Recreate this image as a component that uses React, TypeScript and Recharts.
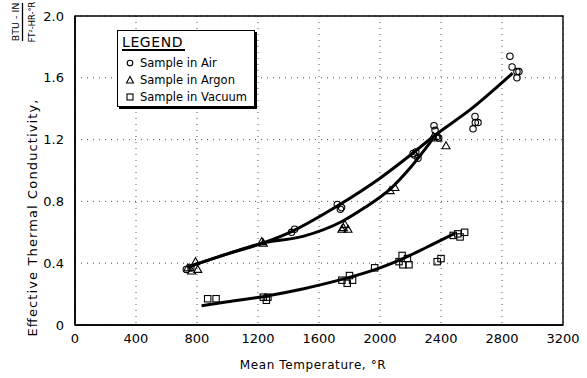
import React from 'react';
import {
  ComposedChart,
  Line,
  Scatter,
  XAxis,
  YAxis,
  CartesianGrid,
  ReferenceArea,
  Legend,
} from 'recharts';

// ---- axis ticks ----
const xTicks = [0, 400, 800, 1200, 1600, 2000, 2400, 2800, 3200];
const yTicks = [0, 0.4, 0.8, 1.2, 1.6, 2.0];

// ---- measured points ----
const airX = [730, 760, 1420, 1440, 1720, 1740, 1748, 2217, 2235, 2249, 2225, 2354, 2361, 2374, 2385, 2623, 2625, 2643, 2610, 2852, 2866, 2898, 2911, 2898];
const airY = [0.36, 0.37, 0.6, 0.62, 0.78, 0.75, 0.76, 1.11, 1.12, 1.08, 1.1, 1.29, 1.26, 1.22, 1.21, 1.35, 1.31, 1.31, 1.27, 1.74, 1.67, 1.64, 1.64, 1.6];

const argonX = [740, 765, 790, 805, 1225, 1235, 1750, 1770, 1790, 1760, 2066, 2098, 2350, 2380, 2433];
const argonY = [0.37, 0.35, 0.41, 0.36, 0.54, 0.53, 0.62, 0.65, 0.62, 0.63, 0.87, 0.89, 1.22, 1.21, 1.16];

const vacuumX = [870, 925, 1235, 1255, 1265, 1750, 1800, 1785, 1820, 1965, 2125, 2145, 2150, 2190, 2180, 2375, 2400, 2480, 2525, 2555, 2510];
const vacuumY = [0.17, 0.17, 0.18, 0.16, 0.18, 0.29, 0.32, 0.27, 0.29, 0.37, 0.41, 0.45, 0.39, 0.39, 0.43, 0.41, 0.43, 0.58, 0.57, 0.6, 0.59];

// ---- fitted curves ----
const airCurveX = [740, 1000, 1230, 1420, 1720, 2000, 2200, 2350, 2600, 2870];
const airCurveY = [0.375, 0.46, 0.53, 0.605, 0.77, 0.95, 1.1, 1.22, 1.4, 1.63];

const argonCurveX = [740, 1000, 1230, 1500, 1750, 1900, 2066, 2200, 2350];
const argonCurveY = [0.375, 0.46, 0.53, 0.575, 0.67, 0.76, 0.88, 1.02, 1.21];

const vacuumCurveX = [830, 1000, 1240, 1500, 1750, 2000, 2150, 2300, 2495];
const vacuumCurveY = [0.125, 0.15, 0.185, 0.235, 0.295, 0.37, 0.43, 0.5, 0.595];

const toPts = (xs: number[], ys: number[]) => xs.map((x, i) => ({ x, y: ys[i] }));

const airPts = toPts(airX, airY);
const argonPts = toPts(argonX, argonY);
const vacuumPts = toPts(vacuumX, vacuumY);
const airCurve = toPts(airCurveX, airCurveY);
const argonCurve = toPts(argonCurveX, argonCurveY);
const vacuumCurve = toPts(vacuumCurveX, vacuumCurveY);

const FONT = 'DejaVu Sans';

const CircleShape = (p: any) => (
  <circle cx={p.cx} cy={p.cy} r={3.2} fill="none" stroke="#000" strokeWidth={1.1} />
);
const TriangleShape = (p: any) => (
  <polygon
    points={`${p.cx},${p.cy - 4} ${p.cx - 4},${p.cy + 3} ${p.cx + 4},${p.cy + 3}`}
    fill="none"
    stroke="#000"
    strokeWidth={1.1}
  />
);
const SquareShape = (p: any) => (
  <rect x={p.cx - 3.2} y={p.cy - 3.2} width={6.4} height={6.4} fill="none" stroke="#000" strokeWidth={1.1} />
);

const LegendBox = () => (
  <div
    style={{
      position: 'relative',
      width: 136,
      height: 75,
      border: '1px solid #000',
      boxShadow: '2px 2px 0 #000',
      background: '#fff',
      fontFamily: FONT,
      color: '#000',
    }}
  >
    <div style={{ position: 'absolute', left: 4, top: 3, fontSize: 14, lineHeight: '16px', letterSpacing: 0.6 }}>LEGEND</div>
    <div style={{ position: 'absolute', left: 4, top: 18, width: 63, height: 2, background: '#000' }} />
    {[
      { label: 'Sample in Air', kind: 'c' },
      { label: 'Sample in Argon', kind: 't' },
      { label: 'Sample in Vacuum', kind: 's' },
    ].map((it, i) => (
      <div key={it.label} style={{ position: 'absolute', left: 0, top: 25 + i * 17, height: 14, width: 136 }}>
        <svg width={10} height={10} style={{ position: 'absolute', left: 7, top: 2 }}>
          {it.kind === 'c' && <circle cx={5} cy={5} r={2.8} fill="none" stroke="#000" strokeWidth={1.1} />}
          {it.kind === 't' && <polygon points="5,1.5 1.5,8 8.5,8" fill="none" stroke="#000" strokeWidth={1.1} />}
          {it.kind === 's' && <rect x={2} y={2} width={6} height={6} fill="none" stroke="#000" strokeWidth={1.1} />}
        </svg>
        <div style={{ position: 'absolute', left: 22, top: 0, fontSize: 11.5, lineHeight: '14px', whiteSpace: 'nowrap' }}>
          {it.label}
        </div>
      </div>
    ))}
  </div>
);

const YTitle = () => (
  <g fontFamily={FONT} fill="#000">
    <text
      x={37}
      y={218}
      transform="rotate(-90, 37, 218)"
      textAnchor="middle"
      fontSize={13}
      textLength={237}
      lengthAdjust="spacing"
    >
      Effective Thermal Conductivity,
    </text>
    <text x={19} y={22} transform="rotate(-90, 19, 22)" textAnchor="middle" fontSize={9.5}>
      BTU - IN
    </text>
    <line x1={22.5} y1={3} x2={22.5} y2={41} stroke="#000" strokeWidth={1.3} />
    <text x={35} y={22} transform="rotate(-90, 35, 22)" textAnchor="middle" fontSize={8.3}>
      FT²-HR-°R
    </text>
  </g>
);

const XTitle = () => (
  <text x={313} y={369} textAnchor="middle" fontFamily={FONT} fontSize={12} letterSpacing={0.6} fill="#000">
    Mean Temperature, °R
  </text>
);

export default function App() {
  return (
    <div style={{ position: 'absolute', left: 0, top: 0, background: '#fff' }}>
      <ComposedChart
        width={587}
        height={378}
        margin={{ top: 16, right: 24, bottom: 0, left: 0 }}
        style={{ fontFamily: FONT }}
      >
        <CartesianGrid stroke="#555" strokeDasharray="1 5" strokeWidth={1} />
        <XAxis
          type="number"
          dataKey="x"
          domain={[0, 3200]}
          ticks={xTicks}
          height={53}
          tickSize={0}
          tickMargin={9}
          axisLine={{ stroke: '#000', strokeWidth: 1.6 }}
          tick={{ fill: '#000', fontSize: 13, fontFamily: FONT }}
          allowDataOverflow
          label={<XTitle />}
        />
        <YAxis
          type="number"
          dataKey="y"
          domain={[0, 2]}
          ticks={yTicks}
          width={75}
          tickSize={0}
          tickMargin={11}
          axisLine={{ stroke: '#000', strokeWidth: 1.6 }}
          tick={{ fill: '#000', fontSize: 13, fontFamily: FONT }}
          tickFormatter={(v: number) => (v === 0 ? '0' : v.toFixed(1))}
          allowDataOverflow
          label={<YTitle />}
        />
        <ReferenceArea x1={0} x2={3200} y1={0} y2={2} fill="none" stroke="#000" strokeWidth={1.4} />
        <Line data={airCurve} dataKey="y" type="monotone" stroke="#000" strokeWidth={3} dot={false} activeDot={false} isAnimationActive={false} legendType="none" />
        <Line data={argonCurve} dataKey="y" type="monotone" stroke="#000" strokeWidth={3} dot={false} activeDot={false} isAnimationActive={false} legendType="none" />
        <Line data={vacuumCurve} dataKey="y" type="monotone" stroke="#000" strokeWidth={3} dot={false} activeDot={false} isAnimationActive={false} legendType="none" />
        <Scatter data={airPts} dataKey="y" shape={CircleShape} isAnimationActive={false} />
        <Scatter data={argonPts} dataKey="y" shape={TriangleShape} isAnimationActive={false} />
        <Scatter data={vacuumPts} dataKey="y" shape={SquareShape} isAnimationActive={false} />
        <Legend
          layout="vertical"
          align="center"
          verticalAlign="middle"
          wrapperStyle={{ left: 117, top: 30, width: 139, height: 78 }}
          content={() => <LegendBox />}
        />
      </ComposedChart>
    </div>
  );
}
